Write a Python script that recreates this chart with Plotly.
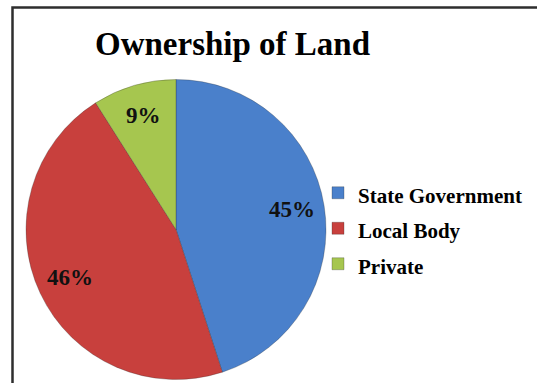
import math
import plotly.graph_objects as go

# Land ownership shares
categories = ["State Government", "Local Body", "Private"]
shares = [45, 46, 9]
slice_colors = ["#4A80CB", "#C8403D", "#A6C64F"]

W, H = 537, 383
SERIF = "Liberation Serif, Times New Roman, serif"

# pie geometry in pixels (centre and radius)
cx, cy, R = 176.0, 229.5, 150.0


def px(x):
    return x / W


def py(y):
    return 1 - y / H


legend_labels = [f"<span style='font-size:21px'><b>{c}</b></span>" for c in categories]

fig = go.Figure(
    go.Pie(
        labels=legend_labels,
        values=shares,
        sort=False,
        direction="clockwise",
        rotation=0,
        textinfo="none",
        hoverinfo="label+percent",
        marker=dict(colors=slice_colors, line=dict(color="rgba(40,40,40,0.35)", width=0.8)),
        domain=dict(x=[px(cx - R), px(cx + R)], y=[py(cy + R), py(cy - R)]),
    )
)

# percentage labels placed along each slice's mid-angle
total = sum(shares)
annotations = []
cum = 0.0
for v in shares:
    mid = (cum + v / 2) / total * 2 * math.pi
    cum += v
    r = 0.78 * R
    lx = cx + r * math.sin(mid)
    ly = cy - r * math.cos(mid) - 2
    annotations.append(
        dict(
            x=px(lx), y=py(ly), xref="paper", yref="paper",
            text=f"<b>{round(v / total * 100)}%</b>", showarrow=False,
            xanchor="center", yanchor="middle",
            font=dict(family=SERIF, size=23, color="#111111"),
        )
    )

# chart title
annotations.append(
    dict(
        x=px(232), y=py(44), xref="paper", yref="paper",
        text="<b>Ownership of Land</b>", showarrow=False,
        xanchor="center", yanchor="middle",
        font=dict(family=SERIF, size=33, color="#000000"),
    )
)

fig.update_layout(
    width=W, height=H,
    margin=dict(l=0, r=0, t=0, b=0),
    paper_bgcolor="white",
    plot_bgcolor="white",
    font=dict(family=SERIF),
    showlegend=True,
    legend=dict(
        x=px(318), y=py(170), xanchor="left", yanchor="top",
        font=dict(family=SERIF, size=25, color="#000000"),
        bgcolor="rgba(0,0,0,0)", borderwidth=0,
        itemwidth=30,
    ),
    annotations=annotations,
    shapes=[
        dict(
            type="rect", xref="paper", yref="paper",
            x0=px(12.5), y0=py(7.5), x1=px(560), y1=py(420),
            line=dict(color="#2E2E2E", width=2.5),
            fillcolor="rgba(0,0,0,0)", layer="above",
        )
    ],
)

fig.write_html("out.html")
